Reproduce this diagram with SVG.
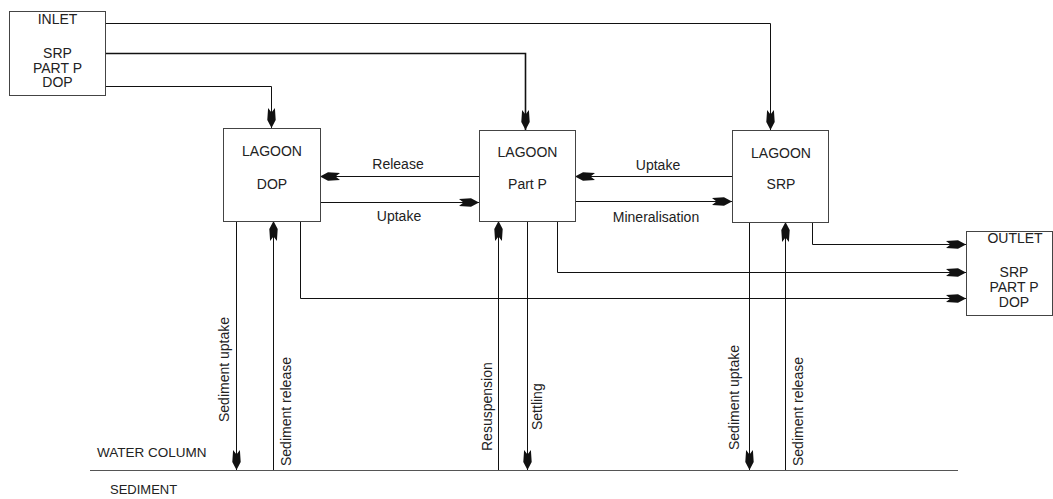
<svg xmlns="http://www.w3.org/2000/svg" width="1053" height="499" viewBox="0 0 1053 499">
  <style>
    .box { fill: #ffffff; stroke: #444444; stroke-width: 1; }
    .lbl { font-family: "Liberation Sans", Arial, sans-serif; font-size: 14px; fill: #222222; }
    .mid { text-anchor: middle; }
    .link { fill: none; stroke: #111111; stroke-width: 1; marker-end: url(#barb); }
    .ground { stroke: #555555; stroke-width: 1; }
  </style>
  <defs>
    <!-- notched, barbed arrowhead; tip at (20,5) -->
    <marker id="barb" viewBox="0 0 20 10" refX="20" refY="5" markerWidth="20" markerHeight="10" markerUnits="userSpaceOnUse" orient="auto">
      <path d="M20,5 L12,0.8 L0,1.6 L4.5,5 L0,8.4 L12,9.2 Z" fill="#111111"/>
    </marker>
  </defs>

  <rect width="1053" height="499" fill="#ffffff"/>

  <!-- water column / sediment boundary -->
  <line class="ground" x1="90" y1="470.5" x2="958" y2="470.5"/>
  <text class="lbl" x="97" y="457" style="font-size:13.5px">WATER COLUMN</text>
  <text class="lbl" x="110" y="494" style="font-size:13px">SEDIMENT</text>

  <g id="connectors">
    <!-- inlet feeds -->
    <polyline class="link" points="105,23.5 770.5,23.5 770.5,130"/>
    <polyline class="link" points="105,53.5 525.5,53.5 525.5,130" style="stroke-width:1.6"/>
    <polyline class="link" points="105,86.5 271.5,86.5 271.5,128"/>
    <!-- exchanges between lagoon pools -->
    <line class="link" x1="479" y1="176.5" x2="320" y2="176.5"/>
    <line class="link" x1="320" y1="202.5" x2="479" y2="202.5"/>
    <line class="link" x1="732" y1="176.5" x2="575" y2="176.5"/>
    <line class="link" x1="575" y1="201.5" x2="732" y2="201.5"/>
    <!-- sediment exchanges -->
    <line class="link" x1="236.5" y1="221" x2="236.5" y2="470"/>
    <line class="link" x1="273.5" y1="470" x2="273.5" y2="221"/>
    <line class="link" x1="498.5" y1="470" x2="498.5" y2="221"/>
    <line class="link" x1="527.5" y1="221" x2="527.5" y2="470"/>
    <line class="link" x1="749.5" y1="222" x2="749.5" y2="470"/>
    <line class="link" x1="785.5" y1="470" x2="785.5" y2="222"/>
    <!-- outflows -->
    <polyline class="link" points="812.5,222 812.5,244.5 966,244.5"/>
    <polyline class="link" points="557.5,221 557.5,272.5 966,272.5"/>
    <polyline class="link" points="300.5,221 300.5,298.5 966,298.5"/>

    <!-- connector labels -->
    <text class="lbl mid" x="398" y="169">Release</text>
    <text class="lbl mid" x="399" y="221">Uptake</text>
    <text class="lbl mid" x="658" y="170">Uptake</text>
    <text class="lbl mid" x="656" y="222">Mineralisation</text>
    <text class="lbl" transform="translate(229,422) rotate(-90)">Sediment uptake</text>
    <text class="lbl" transform="translate(291,466) rotate(-90)">Sediment release</text>
    <text class="lbl" transform="translate(492,451) rotate(-90)">Resuspension</text>
    <text class="lbl" transform="translate(542,430) rotate(-90)">Settling</text>
    <text class="lbl" transform="translate(739,450) rotate(-90)">Sediment uptake</text>
    <text class="lbl" transform="translate(803,466) rotate(-90)">Sediment release</text>
  </g>

  <g id="inlet">
    <rect class="box" x="9.5" y="11.5" width="96" height="84"/>
    <text class="lbl mid" x="57.5" y="24">INLET</text>
    <text class="lbl mid" x="57.5" y="58">SRP</text>
    <text class="lbl mid" x="57.5" y="73">PART P</text>
    <text class="lbl mid" x="57.5" y="87">DOP</text>
  </g>

  <g id="lagoon-dop">
    <rect class="box" x="223.5" y="128.5" width="97" height="93"/>
    <text class="lbl mid" x="272" y="156">LAGOON</text>
    <text class="lbl mid" x="272" y="189">DOP</text>
  </g>

  <g id="lagoon-partp">
    <rect class="box" x="479.5" y="130.5" width="96" height="91"/>
    <text class="lbl mid" x="527.5" y="157">LAGOON</text>
    <text class="lbl mid" x="527.5" y="189">Part P</text>
  </g>

  <g id="lagoon-srp">
    <rect class="box" x="732.5" y="130.5" width="96" height="92"/>
    <text class="lbl mid" x="781" y="158">LAGOON</text>
    <text class="lbl mid" x="781" y="189">SRP</text>
  </g>

  <g id="outlet">
    <rect class="box" x="966.5" y="231.5" width="86" height="84"/>
    <text class="lbl mid" x="1015" y="243">OUTLET</text>
    <text class="lbl mid" x="1014" y="277">SRP</text>
    <text class="lbl mid" x="1014" y="292">PART P</text>
    <text class="lbl mid" x="1014" y="307">DOP</text>
  </g>
</svg>
